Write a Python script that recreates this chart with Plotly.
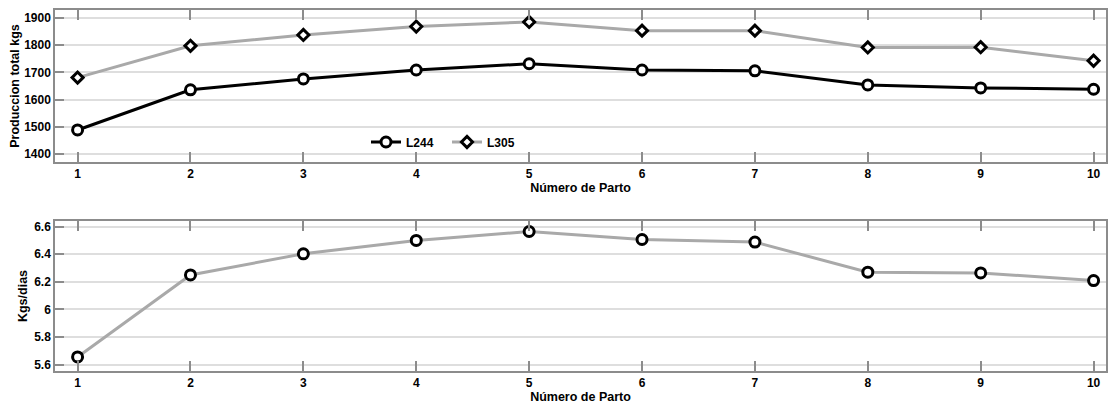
import plotly.graph_objects as go

partos = [1, 2, 3, 4, 5, 6, 7, 8, 9, 10]
l244 = [1488, 1636, 1676, 1709, 1732, 1709, 1706, 1654, 1643, 1638]
l305 = [1681, 1798, 1838, 1869, 1886, 1854, 1854, 1792, 1793, 1743]
kgs_dias = [5.655, 6.249, 6.402, 6.499, 6.564, 6.506, 6.487, 6.269, 6.264, 6.208]

top_ticks = [1400, 1500, 1600, 1700, 1800, 1900]
bot_ticks = [5.6, 5.8, 6.0, 6.2, 6.4, 6.6]
bot_tick_text = ["5.6", "5.8", "6", "6.2", "6.4", "6.6"]
top_range = [1370, 1930]
bot_range = [5.553, 6.64]

FONT = "Liberation Sans, Arial, sans-serif"
GRAY = "#a9a9a9"
FRAME = "#8c8c8c"

fig = go.Figure()

marker_circle = dict(symbol="circle", size=10, color="white",
                     line=dict(color="black", width=3))
marker_diam = dict(symbol="diamond", size=8.5, color="white",
                   line=dict(color="black", width=3))

fig.add_trace(go.Scatter(x=partos, y=l244, name="L244", mode="lines+markers",
                         line=dict(color="black", width=3), marker=marker_circle,
                         xaxis="x", yaxis="y"))
fig.add_trace(go.Scatter(x=partos, y=l305, name="L305", mode="lines+markers",
                         line=dict(color=GRAY, width=3), marker=marker_diam,
                         xaxis="x", yaxis="y"))
fig.add_trace(go.Scatter(x=partos, y=kgs_dias, name="Kgs/dias", mode="lines+markers",
                         line=dict(color=GRAY, width=3), marker=marker_circle,
                         xaxis="x2", yaxis="y2", showlegend=False))
# empty traces so the right-side tick axes are drawn
fig.add_trace(go.Scatter(x=[None], y=[None], xaxis="x", yaxis="y3",
                         showlegend=False, hoverinfo="skip"))
fig.add_trace(go.Scatter(x=[None], y=[None], xaxis="x2", yaxis="y4",
                         showlegend=False, hoverinfo="skip"))

W, H = 1116, 409
OFF = 8  # page body margin
xdom = [(55 - OFF) / W, (1106 - OFF) / W]
ytop = [1 - (162 - OFF) / H, 1 - (10 - OFF) / H]
ybot = [1 - (371 - OFF) / H, 1 - (221 - OFF) / H]

tickfont = dict(family=FONT, size=12, color="black", weight="bold")
titlefont = dict(family=FONT, size=12.5, color="black", weight="bold")

xcommon = dict(range=[0.8, 10.11], tickvals=partos, ticks="inside", ticklen=10,
               tickcolor=FRAME, tickwidth=1.5, showgrid=False, zeroline=False,
               showline=True, linecolor=FRAME, linewidth=1.5, mirror="ticks",
               tickfont=tickfont, automargin=False)
ycommon = dict(ticks="inside", ticklen=9, tickcolor=FRAME, tickwidth=1.5,
               showgrid=True, gridcolor="#dedede", gridwidth=1.5, zeroline=False,
               showline=True, linecolor=FRAME, linewidth=1.5, mirror=False,
               tickfont=tickfont, automargin=False)
yright = dict(side="right", ticks="outside", ticklen=8, tickcolor=FRAME,
              tickwidth=1.5, showgrid=False, zeroline=False, showline=True,
              linecolor=FRAME, linewidth=1.5, showticklabels=False,
              automargin=False)

fig.update_layout(
    template="none",
    width=W, height=H,
    margin=dict(l=0, r=0, t=0, b=0),
    paper_bgcolor="white", plot_bgcolor="white",
    font=dict(family=FONT, color="black"),
    xaxis=dict(domain=xdom, anchor="y",
               title=dict(text="Número de Parto", font=titlefont, standoff=0),
               **xcommon),
    xaxis2=dict(domain=xdom, anchor="y2",
                title=dict(text="Número de Parto", font=titlefont, standoff=0),
                **xcommon),
    yaxis=dict(domain=ytop, anchor="x", range=top_range, tickvals=top_ticks,
               title=dict(text="Produccion total kgs", font=titlefont, standoff=4),
               **ycommon),
    yaxis2=dict(domain=ybot, anchor="x2", range=bot_range, tickvals=bot_ticks,
                ticktext=bot_tick_text,
                title=dict(text="Kgs/dias", font=titlefont, standoff=4),
                **ycommon),
    yaxis3=dict(overlaying="y", anchor="x", range=top_range, tickvals=top_ticks,
                **yright),
    yaxis4=dict(overlaying="y2", anchor="x2", range=bot_range, tickvals=bot_ticks,
                **yright),
    legend=dict(orientation="h", x=(366 - OFF) / W, y=1 - (142 - OFF) / H,
                xanchor="left", yanchor="middle", bgcolor="rgba(0,0,0,0)",
                font=dict(family=FONT, size=12, color="black", weight="bold"),
                entrywidth=36, entrywidthmode="pixels", tracegroupgap=0),
    showlegend=True,
)

fig.write_html("out.html")
